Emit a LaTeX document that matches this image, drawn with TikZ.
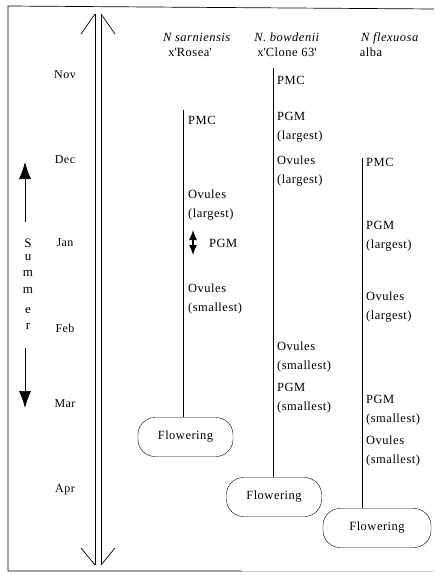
\documentclass[tikz,border=0pt]{standalone}
\usepackage{fontspec}
\setmainfont{Liberation Serif}[LetterSpace=4]
\usetikzlibrary{arrows.meta}
\begin{document}
\begin{tikzpicture}[x=1pt,y=-1pt,
  lab/.style={anchor=west,inner sep=0pt,align=left,font=\fontsize{12.5}{19}\selectfont},
  month/.style={inner sep=0pt,font=\fontsize{12}{14}\selectfont},
  title/.style={inner sep=0pt,align=center,font=\fontsize{12.5}{19}\selectfont},
  flower/.style={draw,rounded corners=17pt,minimum width=95pt,minimum height=39pt,inner sep=0pt,font=\fontsize{12.5}{14}\selectfont},
  ln/.style={line width=0.7pt},
  sumlet/.style={inner sep=0pt,font=\fontsize{13}{14}\selectfont}
]
\useasboundingbox (0,0) rectangle (434,575);
% frame
\draw[ln] (434,9) -- (8,6) -- (8,571) -- (242,571);
\draw[ln,gray!40] (242,571) -- (434,571);
% big double arrow
\draw[ln] (95,14) -- (95,565);
\draw[ln] (101,14) -- (101,565);
\draw[ln] (81,34) -- (95,14);
\draw[ln] (101,14) -- (115,34);
\draw[ln] (81,548) -- (95,565);
\draw[ln] (115,548) -- (101,565);
% months
\node[month] (nov) at (65,75) {Nov};
\node[month] (dec) at (65,160) {Dec};
\node[month] (jan) at (65,243) {Jan};
\node[month] (feb) at (65,328) {Feb};
\node[month] (mar) at (65,404) {Mar};
\node[month] (apr) at (65,490) {Apr};
% summer
\coordinate (su1) at (25,222);
\coordinate (su2) at (25,162);
\coordinate (sd1) at (25,348);
\coordinate (sd2) at (25,408);
\draw[ln,-{Latex[length=17pt,width=12pt]}] (su1) -- (su2);
\draw[ln,-{Latex[length=17pt,width=12pt]}] (sd1) -- (sd2);
\node[sumlet] (sS) at (28,243) {S};
\node[sumlet] (su) at (28,258) {u};
\node[sumlet] (sm1) at (28,273) {m};
\node[sumlet] (sm2) at (28,290) {m};
\node[sumlet] (se) at (28,310) {e};
\node[sumlet] (sr) at (28,326) {r};
% titles
\node[title] (t1) at (197,45) {\textit{N sarniensis}\\[-4pt]\hspace*{-14pt}x\textquotesingle Rosea\textquotesingle};
\node[title] (t2) at (287,45) {\textit{N. bowdenii}\\[-4pt]x\textquotesingle Clone 63\textquotesingle};
\node[title] (t3) at (390,45) {\textit{N flexuosa}\\[-4pt]\hspace*{-38pt}alba};
% column 1
\coordinate (c1top) at (183,110);
\node[flower] (f1) at (185.5,437) {Flowering};
\draw[ln] (c1top) -- (c1top |- f1.north);
\node[lab] (c1pmc) at (188,120) {PMC};
\node[lab] (c1ovl) at (188,205) {Ovules\\(largest)};
\coordinate (c1a) at (193,230);
\coordinate (c1b) at (193,255);
\draw[line width=1.3pt,{Latex[length=10pt,width=8pt]}-{Latex[length=10pt,width=8pt]}] (c1a) -- (c1b);
\node[lab] (c1pgm) at (209,243) {PGM};
\node[lab] (c1ovs) at (188,299) {Ovules\\(smallest)};
% column 2
\coordinate (c2top) at (273,68);
\node[flower] (f2) at (274,497) {Flowering};
\draw[ln] (c2top) -- (c2top |- f2.north);
\node[lab] (c2pmc) at (277,80) {PMC};
\node[lab] (c2pgl) at (277,127.5) {PGM\\(largest)};
\node[lab] (c2ovl) at (277,171) {Ovules\\(largest)};
\node[lab] (c2ovs) at (277,356.5) {Ovules\\(smallest)};
\node[lab] (c2pgs) at (277,398) {PGM\\(smallest)};
% column 3
\coordinate (c3top) at (362,158);
\node[flower,minimum width=108pt] (f3) at (377,528) {Flowering};
\draw[ln] (c3top) -- (c3top |- f3.north);
\node[lab] (c3pmc) at (366,162) {PMC};
\node[lab] (c3pgl) at (366,236) {PGM\\(largest)};
\node[lab] (c3ovl) at (366,307) {Ovules\\(largest)};
\node[lab] (c3pgs) at (366,410) {PGM\\(smallest)};
\node[lab] (c3ovs) at (366,451) {Ovules\\(smallest)};
\end{tikzpicture}
\end{document}
